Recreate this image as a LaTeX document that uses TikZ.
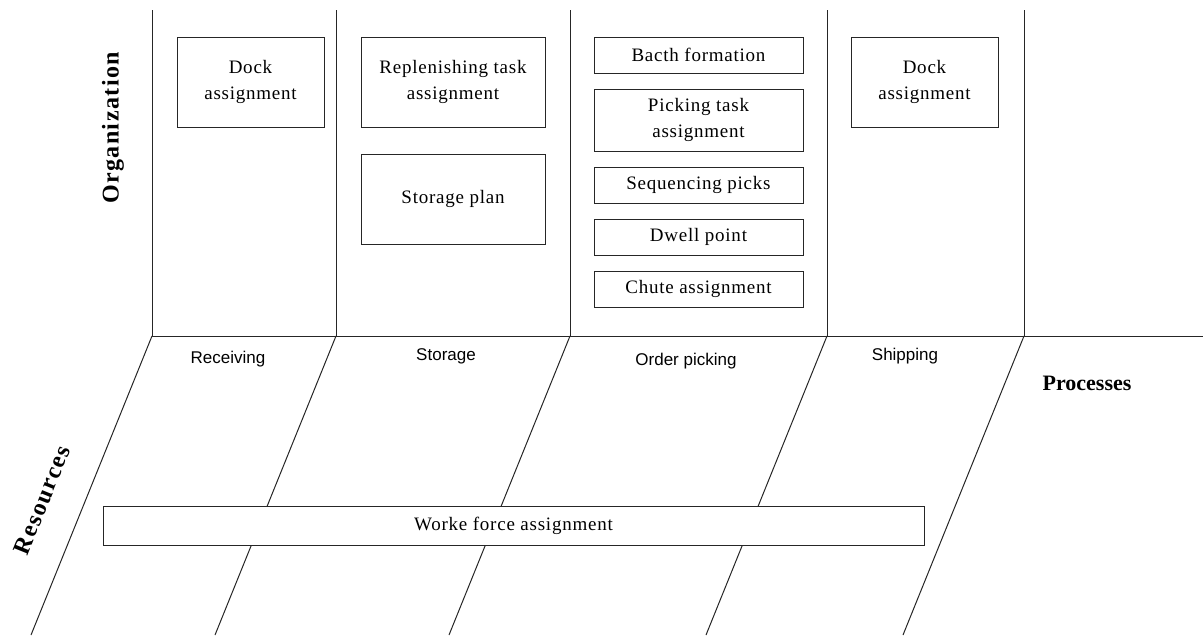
\documentclass[tikz,border=0pt]{standalone}
\usepackage{fontspec}
\setmainfont{Liberation Serif}
\setsansfont{Liberation Sans}
\newfontfamily\boxserif[LetterSpace=4]{Liberation Serif}
\newfontfamily\titleserif[LetterSpace=6]{Liberation Serif}
\begin{document}
\begin{tikzpicture}[x=1pt,y=-1pt,
  frame/.style={line width=1pt, draw=black!85},
  task/.style={frame, fill=white, inner sep=0pt, align=center,
    font=\boxserif\fontsize{19}{26}\selectfont},
  proc/.style={font=\sffamily\fontsize{17}{20}\selectfont},
  axis/.style={font=\titleserif\bfseries\fontsize{24}{28}\selectfont}]
\useasboundingbox (0,0) rectangle (1203,635);

% process columns (organization level)
\foreach \x/\n in {152/a,336/b,570/c,827/d,1024/e}{
  \coordinate (t\n) at (\x,10);
  \coordinate (m\n) at (\x,336);
  \draw[frame] (t\n) -- (m\n);
}
\coordinate (pend) at (1203,336);
\draw[frame] (ma) -- (pend);

% slanted resource lanes
\foreach \x/\n in {31/a,215/b,449/c,706/d,903/e}{
  \coordinate (b\n) at (\x,635);
  \draw[frame] (m\n) -- (b\n);
}

% organization tasks
\node[task, minimum width=147pt, minimum height=90pt] (dock1) at (250.5,82) {Dock\\assignment};
\node[task, minimum width=184pt, minimum height=90pt] (repl) at (453,82) {Replenishing task\\assignment};
\node[task, minimum width=184pt, minimum height=90pt] (splan) at (453,199) {Storage plan};
\node[task, minimum width=209pt, minimum height=36pt] (batch) at (698.5,55) {Bacth formation};
\node[task, minimum width=209pt, minimum height=62pt] (pick) at (698.5,120) {Picking task\\assignment};
\node[task, minimum width=209pt, minimum height=36pt] (seq) at (698.5,185) {Sequencing picks};
\node[task, minimum width=209pt, minimum height=36pt] (dwell) at (698.5,237) {Dwell point};
\node[task, minimum width=209pt, minimum height=36pt] (chute) at (698.5,289) {Chute assignment};
\node[task, minimum width=147pt, minimum height=90pt] (dock2) at (924.5,82) {Dock\\assignment};

% resource task spanning the lanes
\node[task, minimum width=821pt, minimum height=39pt] (work) at (513.5,525.5) {Worke force assignment};

% process names
\node[proc] (recv) at (228,359) {Receiving};
\node[proc] (stor) at (446,356) {Storage};
\node[proc] (ordp) at (686,361) {Order picking};
\node[proc] (ship) at (905,356) {Shipping};

% axis titles
\node[axis, rotate=90] (org) at (113,128) {Organization};
\node[font=\bfseries\fontsize{22}{26}\selectfont] (procs) at (1087,383) {Processes};
\node[axis, rotate=68] (res) at (42,500) {Resources};
\end{tikzpicture}
\end{document}
